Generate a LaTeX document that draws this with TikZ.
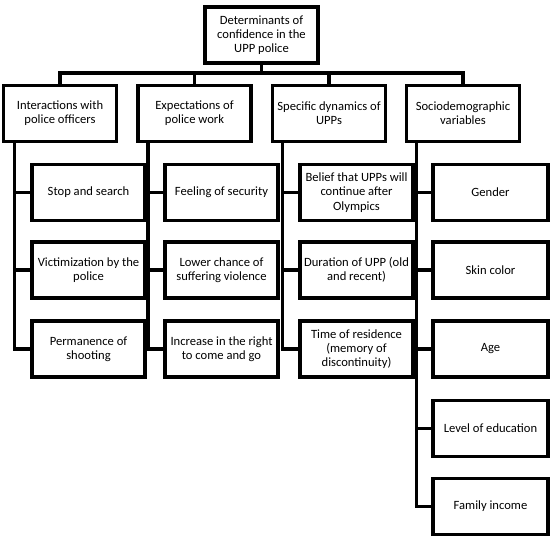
\documentclass[tikz,border=0pt]{standalone}
\usepackage{fontspec}
\setmainfont{Carlito}
\begin{document}
\begin{tikzpicture}[x=1pt,y=-1pt,
  box/.style={draw=black,fill=white,line width=3.8pt,rectangle,inner sep=1pt,
    minimum width=113pt,minimum height=56pt,align=center,
    font=\fontsize{12.6}{14.2}\selectfont},
  conn/.style={draw=black,line width=3.6pt,line join=miter}]
\useasboundingbox[fill=white] (0,0) rectangle (550,539);
% root
\node[box] (root) at (261.5,35) {Determinants of\\confidence in the\\UPP police};
% level 1
\node[box] (a) at (60,113.5) {Interactions with\\police officers};
\node[box] (b) at (194.5,113.5) {Expectations of\\police work};
\node[box] (c) at (329,113.5) {Specific dynamics of\\UPPs};
\node[box] (d) at (463,113.5) {Sociodemographic\\variables};
\coordinate (bus) at (0,73);
% children column 1
\node[box] (a1) at (88.5,192.5) {Stop and search};
\node[box] (a2) at (88.5,270) {Victimization by the\\police};
\node[box] (a3) at (88.5,349) {Permanence of\\shooting};
% column 2
\node[box] (b1) at (221.5,192.5) {Feeling of security};
\node[box] (b2) at (221.5,270) {Lower chance of\\suffering violence};
\node[box] (b3) at (221.5,349) {Increase in the right\\to come and go};
% column 3
\node[box] (c1) at (356.5,192.5) {Belief that UPPs will\\continue after\\Olympics};
\node[box] (c2) at (356.5,270) {Duration of UPP (old\\and recent)};
\node[box] (c3) at (356.5,349) {Time of residence\\(memory of\\discontinuity)};
% column 4
\node[box,minimum width=115pt] (d1) at (490.5,192.5) {Gender};
\node[box,minimum width=115pt] (d2) at (490.5,270) {Skin color};
\node[box,minimum width=115pt] (d3) at (490.5,349) {Age};
\node[box,minimum width=115pt] (d4) at (490.5,428.5) {Level of education};
\node[box,minimum width=115pt] (d5) at (490.5,506.5) {Family income};
% connectors
\draw[conn] (root.south) -- (root.south |- bus);
\draw[conn] (a.north) |- (d.north |- bus) -- (d.north);
\draw[conn] (b.north) -- (b.north |- bus);
\draw[conn] (c.north) -- (c.north |- bus);
% column trunks
\coordinate (ta) at ([xshift=13pt]a.south west);
\coordinate (tb) at ([xshift=12pt]b.south west);
\coordinate (tc) at ([xshift=12pt]c.south west);
\coordinate (td) at ([xshift=12pt]d.south west);
\draw[conn] (ta) |- (a3.west);
\draw[conn] (a1.west) -- (a1.west -| ta);
\draw[conn] (a2.west) -- (a2.west -| ta);
\draw[conn] (tb) |- (b3.west);
\draw[conn] (b1.west) -- (b1.west -| tb);
\draw[conn] (b2.west) -- (b2.west -| tb);
\draw[conn] (tc) |- (c3.west);
\draw[conn] (c1.west) -- (c1.west -| tc);
\draw[conn] (c2.west) -- (c2.west -| tc);
\draw[conn] (td) |- (d5.west);
\draw[conn] (d1.west) -- (d1.west -| td);
\draw[conn] (d2.west) -- (d2.west -| td);
\draw[conn] (d3.west) -- (d3.west -| td);
\draw[conn] (d4.west) -- (d4.west -| td);
\end{tikzpicture}
\end{document}
